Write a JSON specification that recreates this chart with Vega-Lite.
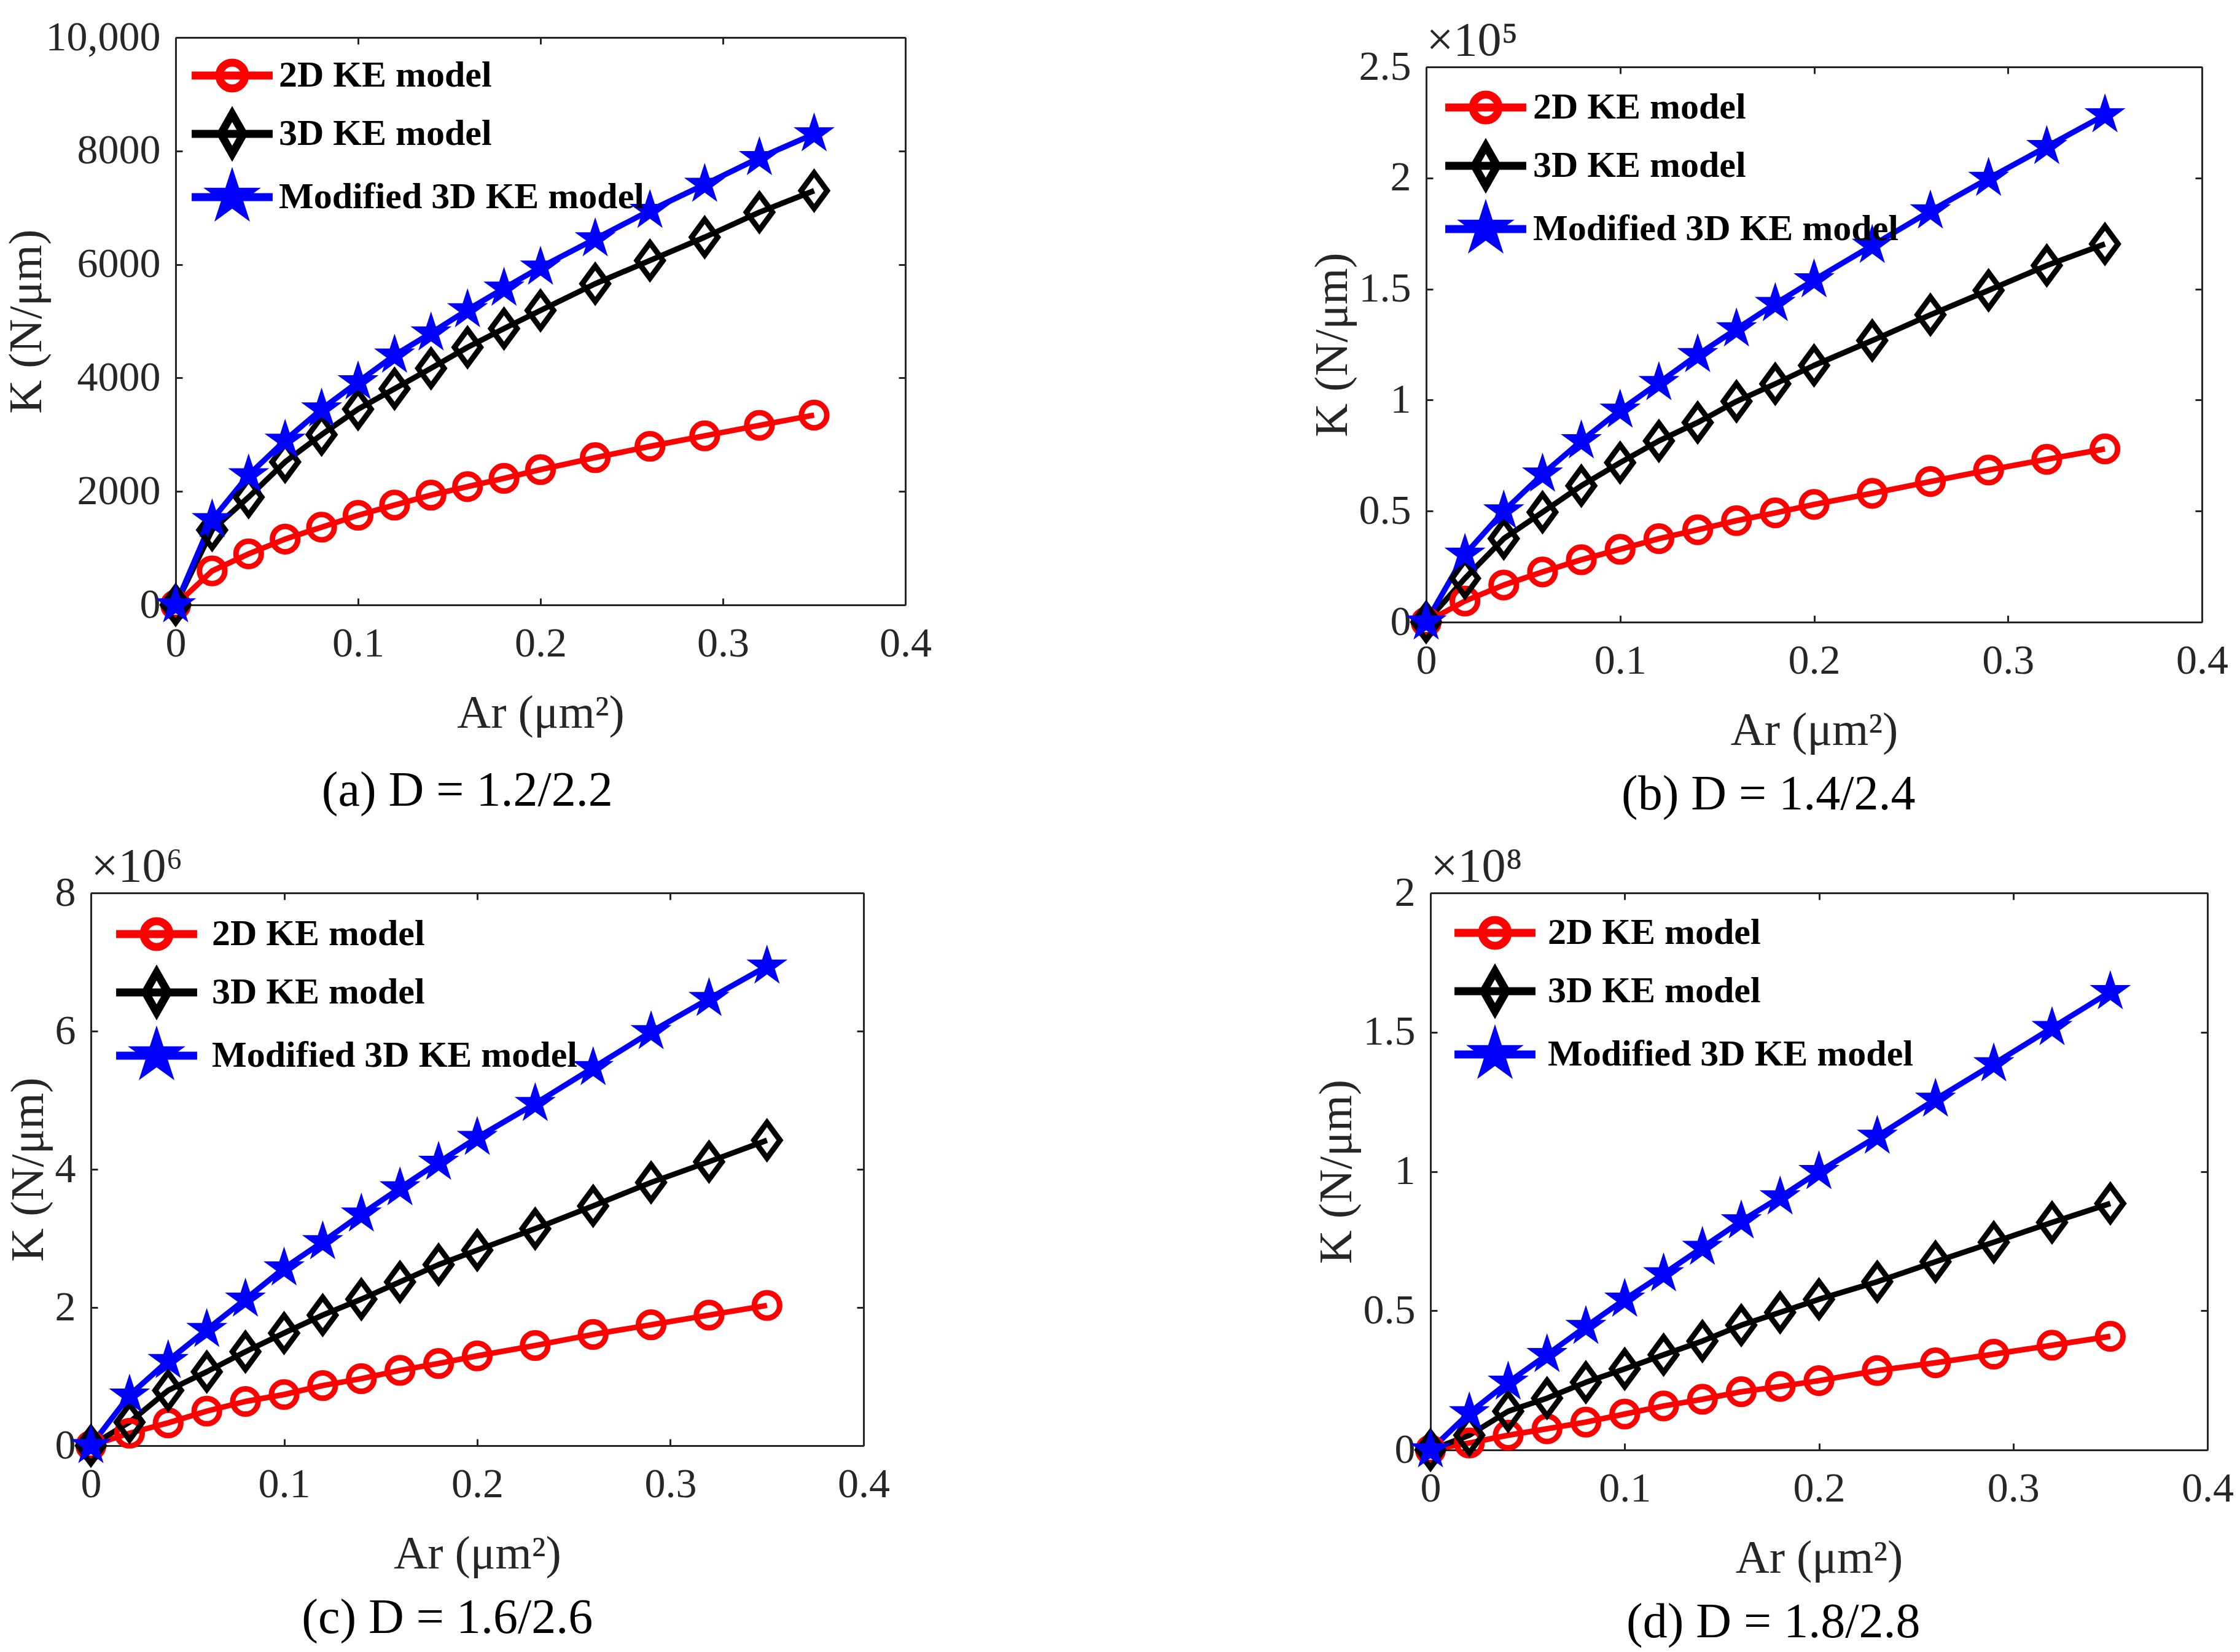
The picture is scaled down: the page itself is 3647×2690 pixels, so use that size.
{
  "$schema": "https://vega.github.io/schema/vega-lite/v6.json",
  "padding": {"left": 0, "top": 0, "right": 5, "bottom": 5},
  "datasets": {
    "kdata": [
      {"p":"a","s":"2D KE model","ar":0,"k":0},{"p":"a","s":"2D KE model","ar":0.02,"k":600},{"p":"a","s":"2D KE model","ar":0.04,"k":900},{"p":"a","s":"2D KE model","ar":0.06,"k":1160},
      {"p":"a","s":"2D KE model","ar":0.08,"k":1370},{"p":"a","s":"2D KE model","ar":0.1,"k":1580},{"p":"a","s":"2D KE model","ar":0.12,"k":1760},{"p":"a","s":"2D KE model","ar":0.14,"k":1935},
      {"p":"a","s":"2D KE model","ar":0.16,"k":2085},{"p":"a","s":"2D KE model","ar":0.18,"k":2230},{"p":"a","s":"2D KE model","ar":0.2,"k":2385},{"p":"a","s":"2D KE model","ar":0.23,"k":2595},
      {"p":"a","s":"2D KE model","ar":0.26,"k":2795},{"p":"a","s":"2D KE model","ar":0.29,"k":2980},{"p":"a","s":"2D KE model","ar":0.32,"k":3165},{"p":"a","s":"2D KE model","ar":0.35,"k":3345},
      {"p":"a","s":"3D KE model","ar":0,"k":0},{"p":"a","s":"3D KE model","ar":0.02,"k":1320},{"p":"a","s":"3D KE model","ar":0.04,"k":1900},{"p":"a","s":"3D KE model","ar":0.06,"k":2520},
      {"p":"a","s":"3D KE model","ar":0.08,"k":3000},{"p":"a","s":"3D KE model","ar":0.1,"k":3450},{"p":"a","s":"3D KE model","ar":0.12,"k":3810},{"p":"a","s":"3D KE model","ar":0.14,"k":4170},
      {"p":"a","s":"3D KE model","ar":0.16,"k":4540},{"p":"a","s":"3D KE model","ar":0.18,"k":4870},{"p":"a","s":"3D KE model","ar":0.2,"k":5190},{"p":"a","s":"3D KE model","ar":0.23,"k":5660},
      {"p":"a","s":"3D KE model","ar":0.26,"k":6070},{"p":"a","s":"3D KE model","ar":0.29,"k":6480},{"p":"a","s":"3D KE model","ar":0.32,"k":6920},{"p":"a","s":"3D KE model","ar":0.35,"k":7300},
      {"p":"a","s":"Modified 3D KE model","ar":0,"k":0},{"p":"a","s":"Modified 3D KE model","ar":0.02,"k":1500},{"p":"a","s":"Modified 3D KE model","ar":0.04,"k":2290},{"p":"a","s":"Modified 3D KE model","ar":0.06,"k":2900},
      {"p":"a","s":"Modified 3D KE model","ar":0.08,"k":3450},{"p":"a","s":"Modified 3D KE model","ar":0.1,"k":3930},{"p":"a","s":"Modified 3D KE model","ar":0.12,"k":4400},{"p":"a","s":"Modified 3D KE model","ar":0.14,"k":4790},
      {"p":"a","s":"Modified 3D KE model","ar":0.16,"k":5200},{"p":"a","s":"Modified 3D KE model","ar":0.18,"k":5580},{"p":"a","s":"Modified 3D KE model","ar":0.2,"k":5950},{"p":"a","s":"Modified 3D KE model","ar":0.23,"k":6450},
      {"p":"a","s":"Modified 3D KE model","ar":0.26,"k":6950},{"p":"a","s":"Modified 3D KE model","ar":0.29,"k":7410},{"p":"a","s":"Modified 3D KE model","ar":0.32,"k":7880},{"p":"a","s":"Modified 3D KE model","ar":0.35,"k":8300},

      {"p":"b","s":"2D KE model","ar":0,"k":0},{"p":"b","s":"2D KE model","ar":0.02,"k":0.095},{"p":"b","s":"2D KE model","ar":0.04,"k":0.167},{"p":"b","s":"2D KE model","ar":0.06,"k":0.226},
      {"p":"b","s":"2D KE model","ar":0.08,"k":0.281},{"p":"b","s":"2D KE model","ar":0.1,"k":0.328},{"p":"b","s":"2D KE model","ar":0.12,"k":0.376},{"p":"b","s":"2D KE model","ar":0.14,"k":0.416},
      {"p":"b","s":"2D KE model","ar":0.16,"k":0.457},{"p":"b","s":"2D KE model","ar":0.18,"k":0.492},{"p":"b","s":"2D KE model","ar":0.2,"k":0.53},{"p":"b","s":"2D KE model","ar":0.23,"k":0.58},
      {"p":"b","s":"2D KE model","ar":0.26,"k":0.633},{"p":"b","s":"2D KE model","ar":0.29,"k":0.685},{"p":"b","s":"2D KE model","ar":0.32,"k":0.733},{"p":"b","s":"2D KE model","ar":0.35,"k":0.78},
      {"p":"b","s":"3D KE model","ar":0,"k":0},{"p":"b","s":"3D KE model","ar":0.02,"k":0.197},{"p":"b","s":"3D KE model","ar":0.04,"k":0.376},{"p":"b","s":"3D KE model","ar":0.06,"k":0.495},
      {"p":"b","s":"3D KE model","ar":0.08,"k":0.614},{"p":"b","s":"3D KE model","ar":0.1,"k":0.718},{"p":"b","s":"3D KE model","ar":0.12,"k":0.816},{"p":"b","s":"3D KE model","ar":0.14,"k":0.899},
      {"p":"b","s":"3D KE model","ar":0.16,"k":0.994},{"p":"b","s":"3D KE model","ar":0.18,"k":1.073},{"p":"b","s":"3D KE model","ar":0.2,"k":1.156},{"p":"b","s":"3D KE model","ar":0.23,"k":1.268},
      {"p":"b","s":"3D KE model","ar":0.26,"k":1.384},{"p":"b","s":"3D KE model","ar":0.29,"k":1.494},{"p":"b","s":"3D KE model","ar":0.32,"k":1.606},{"p":"b","s":"3D KE model","ar":0.35,"k":1.703},
      {"p":"b","s":"Modified 3D KE model","ar":0,"k":0},{"p":"b","s":"Modified 3D KE model","ar":0.02,"k":0.305},{"p":"b","s":"Modified 3D KE model","ar":0.04,"k":0.5},{"p":"b","s":"Modified 3D KE model","ar":0.06,"k":0.666},
      {"p":"b","s":"Modified 3D KE model","ar":0.08,"k":0.816},{"p":"b","s":"Modified 3D KE model","ar":0.1,"k":0.954},{"p":"b","s":"Modified 3D KE model","ar":0.12,"k":1.078},{"p":"b","s":"Modified 3D KE model","ar":0.14,"k":1.204},
      {"p":"b","s":"Modified 3D KE model","ar":0.16,"k":1.32},{"p":"b","s":"Modified 3D KE model","ar":0.18,"k":1.434},{"p":"b","s":"Modified 3D KE model","ar":0.2,"k":1.541},{"p":"b","s":"Modified 3D KE model","ar":0.23,"k":1.696},
      {"p":"b","s":"Modified 3D KE model","ar":0.26,"k":1.851},{"p":"b","s":"Modified 3D KE model","ar":0.29,"k":1.998},{"p":"b","s":"Modified 3D KE model","ar":0.32,"k":2.141},{"p":"b","s":"Modified 3D KE model","ar":0.35,"k":2.284},

      {"p":"c","s":"2D KE model","ar":0,"k":0},{"p":"c","s":"2D KE model","ar":0.02,"k":0.18},{"p":"c","s":"2D KE model","ar":0.04,"k":0.33},{"p":"c","s":"2D KE model","ar":0.06,"k":0.5},
      {"p":"c","s":"2D KE model","ar":0.08,"k":0.64},{"p":"c","s":"2D KE model","ar":0.1,"k":0.74},{"p":"c","s":"2D KE model","ar":0.12,"k":0.87},{"p":"c","s":"2D KE model","ar":0.14,"k":0.97},
      {"p":"c","s":"2D KE model","ar":0.16,"k":1.09},{"p":"c","s":"2D KE model","ar":0.18,"k":1.19},{"p":"c","s":"2D KE model","ar":0.2,"k":1.3},{"p":"c","s":"2D KE model","ar":0.23,"k":1.45},
      {"p":"c","s":"2D KE model","ar":0.26,"k":1.61},{"p":"c","s":"2D KE model","ar":0.29,"k":1.75},{"p":"c","s":"2D KE model","ar":0.32,"k":1.89},{"p":"c","s":"2D KE model","ar":0.35,"k":2.03},
      {"p":"c","s":"3D KE model","ar":0,"k":0},{"p":"c","s":"3D KE model","ar":0.02,"k":0.34},{"p":"c","s":"3D KE model","ar":0.04,"k":0.8},{"p":"c","s":"3D KE model","ar":0.06,"k":1.07},
      {"p":"c","s":"3D KE model","ar":0.08,"k":1.36},{"p":"c","s":"3D KE model","ar":0.1,"k":1.63},{"p":"c","s":"3D KE model","ar":0.12,"k":1.89},{"p":"c","s":"3D KE model","ar":0.14,"k":2.12},
      {"p":"c","s":"3D KE model","ar":0.16,"k":2.37},{"p":"c","s":"3D KE model","ar":0.18,"k":2.62},{"p":"c","s":"3D KE model","ar":0.2,"k":2.83},{"p":"c","s":"3D KE model","ar":0.23,"k":3.14},
      {"p":"c","s":"3D KE model","ar":0.26,"k":3.47},{"p":"c","s":"3D KE model","ar":0.29,"k":3.81},{"p":"c","s":"3D KE model","ar":0.32,"k":4.11},{"p":"c","s":"3D KE model","ar":0.35,"k":4.42},
      {"p":"c","s":"Modified 3D KE model","ar":0,"k":0},{"p":"c","s":"Modified 3D KE model","ar":0.02,"k":0.73},{"p":"c","s":"Modified 3D KE model","ar":0.04,"k":1.23},{"p":"c","s":"Modified 3D KE model","ar":0.06,"k":1.68},
      {"p":"c","s":"Modified 3D KE model","ar":0.08,"k":2.12},{"p":"c","s":"Modified 3D KE model","ar":0.1,"k":2.57},{"p":"c","s":"Modified 3D KE model","ar":0.12,"k":2.95},{"p":"c","s":"Modified 3D KE model","ar":0.14,"k":3.35},
      {"p":"c","s":"Modified 3D KE model","ar":0.16,"k":3.73},{"p":"c","s":"Modified 3D KE model","ar":0.18,"k":4.1},{"p":"c","s":"Modified 3D KE model","ar":0.2,"k":4.46},{"p":"c","s":"Modified 3D KE model","ar":0.23,"k":4.95},
      {"p":"c","s":"Modified 3D KE model","ar":0.26,"k":5.47},{"p":"c","s":"Modified 3D KE model","ar":0.29,"k":5.99},{"p":"c","s":"Modified 3D KE model","ar":0.32,"k":6.47},{"p":"c","s":"Modified 3D KE model","ar":0.35,"k":6.94},

      {"p":"d","s":"2D KE model","ar":0,"k":0},{"p":"d","s":"2D KE model","ar":0.02,"k":0.025},{"p":"d","s":"2D KE model","ar":0.04,"k":0.053},{"p":"d","s":"2D KE model","ar":0.06,"k":0.076},
      {"p":"d","s":"2D KE model","ar":0.08,"k":0.1},{"p":"d","s":"2D KE model","ar":0.1,"k":0.129},{"p":"d","s":"2D KE model","ar":0.12,"k":0.158},{"p":"d","s":"2D KE model","ar":0.14,"k":0.182},
      {"p":"d","s":"2D KE model","ar":0.16,"k":0.209},{"p":"d","s":"2D KE model","ar":0.18,"k":0.228},{"p":"d","s":"2D KE model","ar":0.2,"k":0.249},{"p":"d","s":"2D KE model","ar":0.23,"k":0.285},
      {"p":"d","s":"2D KE model","ar":0.26,"k":0.313},{"p":"d","s":"2D KE model","ar":0.29,"k":0.344},{"p":"d","s":"2D KE model","ar":0.32,"k":0.376},{"p":"d","s":"2D KE model","ar":0.35,"k":0.408},
      {"p":"d","s":"3D KE model","ar":0,"k":0},{"p":"d","s":"3D KE model","ar":0.02,"k":0.053},{"p":"d","s":"3D KE model","ar":0.04,"k":0.139},{"p":"d","s":"3D KE model","ar":0.06,"k":0.186},
      {"p":"d","s":"3D KE model","ar":0.08,"k":0.243},{"p":"d","s":"3D KE model","ar":0.1,"k":0.291},{"p":"d","s":"3D KE model","ar":0.12,"k":0.342},{"p":"d","s":"3D KE model","ar":0.14,"k":0.391},
      {"p":"d","s":"3D KE model","ar":0.16,"k":0.448},{"p":"d","s":"3D KE model","ar":0.18,"k":0.494},{"p":"d","s":"3D KE model","ar":0.2,"k":0.541},{"p":"d","s":"3D KE model","ar":0.23,"k":0.604},
      {"p":"d","s":"3D KE model","ar":0.26,"k":0.676},{"p":"d","s":"3D KE model","ar":0.29,"k":0.746},{"p":"d","s":"3D KE model","ar":0.32,"k":0.817},{"p":"d","s":"3D KE model","ar":0.35,"k":0.885},
      {"p":"d","s":"Modified 3D KE model","ar":0,"k":0},{"p":"d","s":"Modified 3D KE model","ar":0.02,"k":0.133},{"p":"d","s":"Modified 3D KE model","ar":0.04,"k":0.243},{"p":"d","s":"Modified 3D KE model","ar":0.06,"k":0.342},
      {"p":"d","s":"Modified 3D KE model","ar":0.08,"k":0.443},{"p":"d","s":"Modified 3D KE model","ar":0.1,"k":0.541},{"p":"d","s":"Modified 3D KE model","ar":0.12,"k":0.632},{"p":"d","s":"Modified 3D KE model","ar":0.14,"k":0.727},
      {"p":"d","s":"Modified 3D KE model","ar":0.16,"k":0.822},{"p":"d","s":"Modified 3D KE model","ar":0.18,"k":0.908},{"p":"d","s":"Modified 3D KE model","ar":0.2,"k":0.999},{"p":"d","s":"Modified 3D KE model","ar":0.23,"k":1.126},
      {"p":"d","s":"Modified 3D KE model","ar":0.26,"k":1.259},{"p":"d","s":"Modified 3D KE model","ar":0.29,"k":1.386},{"p":"d","s":"Modified 3D KE model","ar":0.32,"k":1.516},{"p":"d","s":"Modified 3D KE model","ar":0.35,"k":1.645}
    ]
  },
  "columns": 1,
  "align": "none",
  "spacing": 11,
  "resolve": {"legend": {"color": "independent"}},
  "concat": [
    {
      "columns": 4,
      "align": "none",
      "spacing": {"row": 26, "column": 0},
      "resolve": {"legend": {"color": "independent"}},
      "concat": [
        {"width": 1, "height": 1, "data": {"values": []}, "mark": "point"},
        {"width": 1, "height": 1, "data": {"values": []}, "mark": "point"},
        {"width": 1, "height": 1, "data": {"values": []}, "mark": "point"},
        {"width": 1, "height": 1, "data": {"values": []}, "mark": "point"},
        {"width": 5, "height": 1, "data": {"values": []}, "mark": "point"},
        {
          "width": 1188, "height": 924,
          "data": {"name": "kdata"},
          "transform": [{"filter": "datum.p === 'a'"}],
          "title": {"text": "(a) D = 1.2/2.2", "offset": 50},
          "layer": [
            {
              "mark": {"type": "line", "strokeWidth": 9, "strokeJoin": "round"},
              "encoding": {
                "x": {"field": "ar", "type": "quantitative", "scale": {"domain": [0, 0.4], "nice": false}, "axis": {"orient": "bottom", "title": "Ar (μm²)", "values": [0, 0.1, 0.2, 0.3, 0.4], "format": "~g"}},
                "y": {"field": "k", "type": "quantitative", "scale": {"domain": [0, 10000], "nice": false}, "axis": {"orient": "left", "title": "K (N/μm)", "values": [0, 2000, 4000, 6000, 8000, 10000], "labelExpr": "datum.value === 10000 ? '10,000' : format(datum.value, 'd')"}},
                "color": {
                  "field": "s", "type": "nominal",
                  "scale": {"domain": ["2D KE model", "3D KE model", "Modified 3D KE model"], "range": ["#ff0000", "#000000", "#0000ff"]},
                  "legend": {
                    "title": null, "orient": "none", "legendX": 62, "legendY": 32, "labelOffset": 46,
                    "encode": {"symbols": {"update": {
                      "shape": {"signal": "datum.value === '2D KE model' ? 'M-2.93,0L2.93,0M0.93,0A0.93,0.93 0 1,1 -0.93,0A0.93,0.93 0 1,1 0.93,0' : datum.value === '3D KE model' ? 'M-2.93,0L2.93,0M0,-1.44L0.82,0L0,1.44L-0.82,0Z' : 'M-2.93,0L2.93,0M0,-1.26L0.283,-0.39L1.198,-0.389L0.458,0.149L0.741,1.019L0,0.482L-0.741,1.019L-0.458,0.149L-1.198,-0.389L-0.283,-0.39Z'"},
                      "fill": {"signal": "datum.value === 'Modified 3D KE model' ? '#0000ff' : 'transparent'"},
                      "strokeWidth": {"value": 13},
                      "opacity": {"value": 1}
                    }}}
                  }
                }
              }
            },
            {
              "transform": [{"filter": "datum.s === '2D KE model'"}],
              "mark": {"type": "point", "shape": "circle", "size": 1700, "filled": false, "stroke": "#ff0000", "strokeWidth": 9, "opacity": 1},
              "encoding": {
                "x": {"field": "ar", "type": "quantitative", "axis": {"orient": "top", "title": null, "values": [0, 0.1, 0.2, 0.3, 0.4]}},
                "y": {"field": "k", "type": "quantitative", "axis": {"orient": "right", "title": null, "values": [0, 2000, 4000, 6000, 8000, 10000]}}
              }
            },
            {
              "transform": [{"filter": "datum.s === '3D KE model'"}],
              "mark": {"type": "point", "shape": "M0,-1.4L1.03,0L0,1.4L-1.03,0Z", "size": 1700, "filled": false, "stroke": "#000000", "strokeWidth": 9, "opacity": 1},
              "encoding": {
                "x": {"field": "ar", "type": "quantitative", "axis": null},
                "y": {"field": "k", "type": "quantitative", "axis": null}
              }
            },
            {
              "transform": [{"filter": "datum.s === 'Modified 3D KE model'"}],
              "mark": {"type": "point", "shape": "M0,-1.55L0.348,-0.479L1.474,-0.479L0.563,0.183L0.911,1.254L0,0.592L-0.911,1.254L-0.563,0.183L-1.474,-0.479L-0.348,-0.479Z", "size": 1700, "filled": true, "fill": "#0000ff", "stroke": "#0000ff", "strokeWidth": 2, "opacity": 1},
              "encoding": {
                "x": {"field": "ar", "type": "quantitative", "axis": null},
                "y": {"field": "k", "type": "quantitative", "axis": null}
              }
            }
          ],
          "resolve": {"axis": {"x": "independent", "y": "independent"}}
        },
        {"width": 614, "height": 1, "data": {"values": []}, "mark": "point"},
        {
          "width": 1263, "height": 904,
          "data": {"name": "kdata"},
          "transform": [{"filter": "datum.p === 'b'"}],
          "title": {"text": "(b) D = 1.4/2.4", "offset": 28},
          "layer": [
            {
              "mark": {"type": "line", "strokeWidth": 9, "strokeJoin": "round"},
              "encoding": {
                "x": {"field": "ar", "type": "quantitative", "scale": {"domain": [0, 0.4], "nice": false}, "axis": {"orient": "bottom", "title": "Ar (μm²)", "values": [0, 0.1, 0.2, 0.3, 0.4], "format": "~g"}},
                "y": {"field": "k", "type": "quantitative", "scale": {"domain": [0, 2.5], "nice": false}, "axis": {"orient": "left", "title": "K (N/μm)", "values": [0, 0.5, 1, 1.5, 2, 2.5], "format": "~g"}},
                "color": {
                  "field": "s", "type": "nominal",
                  "scale": {"domain": ["2D KE model", "3D KE model", "Modified 3D KE model"], "range": ["#ff0000", "#000000", "#0000ff"]},
                  "legend": {
                    "title": null, "orient": "none", "legendX": 67, "legendY": 36, "labelOffset": 47,
                    "encode": {"symbols": {"update": {
                      "shape": {"signal": "datum.value === '2D KE model' ? 'M-2.93,0L2.93,0M0.93,0A0.93,0.93 0 1,1 -0.93,0A0.93,0.93 0 1,1 0.93,0' : datum.value === '3D KE model' ? 'M-2.93,0L2.93,0M0,-1.44L0.82,0L0,1.44L-0.82,0Z' : 'M-2.93,0L2.93,0M0,-1.26L0.283,-0.39L1.198,-0.389L0.458,0.149L0.741,1.019L0,0.482L-0.741,1.019L-0.458,0.149L-1.198,-0.389L-0.283,-0.39Z'"},
                      "fill": {"signal": "datum.value === 'Modified 3D KE model' ? '#0000ff' : 'transparent'"},
                      "strokeWidth": {"value": 13},
                      "opacity": {"value": 1}
                    }}}
                  }
                }
              }
            },
            {
              "transform": [{"filter": "datum.s === '2D KE model'"}],
              "mark": {"type": "point", "shape": "circle", "size": 1700, "filled": false, "stroke": "#ff0000", "strokeWidth": 9, "opacity": 1},
              "encoding": {
                "x": {"field": "ar", "type": "quantitative", "axis": {"orient": "top", "title": "×10⁵", "values": [0, 0.1, 0.2, 0.3, 0.4]}},
                "y": {"field": "k", "type": "quantitative", "axis": {"orient": "right", "title": null, "values": [0, 0.5, 1, 1.5, 2, 2.5]}}
              }
            },
            {
              "transform": [{"filter": "datum.s === '3D KE model'"}],
              "mark": {"type": "point", "shape": "M0,-1.4L1.03,0L0,1.4L-1.03,0Z", "size": 1700, "filled": false, "stroke": "#000000", "strokeWidth": 9, "opacity": 1},
              "encoding": {
                "x": {"field": "ar", "type": "quantitative", "axis": null},
                "y": {"field": "k", "type": "quantitative", "axis": null}
              }
            },
            {
              "transform": [{"filter": "datum.s === 'Modified 3D KE model'"}],
              "mark": {"type": "point", "shape": "M0,-1.55L0.348,-0.479L1.474,-0.479L0.563,0.183L0.911,1.254L0,0.592L-0.911,1.254L-0.563,0.183L-1.474,-0.479L-0.348,-0.479Z", "size": 1700, "filled": true, "fill": "#0000ff", "stroke": "#0000ff", "strokeWidth": 2, "opacity": 1},
              "encoding": {
                "x": {"field": "ar", "type": "quantitative", "axis": null},
                "y": {"field": "k", "type": "quantitative", "axis": null}
              }
            }
          ],
          "resolve": {"axis": {"x": "independent", "y": "independent"}}
        }
      ]
    },
    {
      "columns": 4,
      "align": "none",
      "spacing": {"row": 26, "column": 0},
      "resolve": {"legend": {"color": "independent"}},
      "concat": [
        {"width": 1, "height": 1, "data": {"values": []}, "mark": "point"},
        {"width": 1, "height": 1, "data": {"values": []}, "mark": "point"},
        {"width": 1, "height": 1, "data": {"values": []}, "mark": "point"},
        {"width": 1, "height": 1, "data": {"values": []}, "mark": "point"},
        {"width": 8, "height": 1, "data": {"values": []}, "mark": "point"},
        {
          "width": 1258, "height": 900,
          "data": {"name": "kdata"},
          "transform": [{"filter": "datum.p === 'c'"}],
          "title": {"text": "(c) D = 1.6/2.6", "offset": 28},
          "layer": [
            {
              "mark": {"type": "line", "strokeWidth": 9, "strokeJoin": "round"},
              "encoding": {
                "x": {"field": "ar", "type": "quantitative", "scale": {"domain": [0, 0.4], "nice": false}, "axis": {"orient": "bottom", "title": "Ar (μm²)", "values": [0, 0.1, 0.2, 0.3, 0.4], "format": "~g"}},
                "y": {"field": "k", "type": "quantitative", "scale": {"domain": [0, 8], "nice": false}, "axis": {"orient": "left", "title": "K (N/μm)", "values": [0, 2, 4, 6, 8], "format": "~g"}},
                "color": {
                  "field": "s", "type": "nominal",
                  "scale": {"domain": ["2D KE model", "3D KE model", "Modified 3D KE model"], "range": ["#ff0000", "#000000", "#0000ff"]},
                  "legend": {
                    "title": null, "orient": "none", "legendX": 77, "legendY": 37, "labelOffset": 60,
                    "encode": {"symbols": {"update": {
                      "shape": {"signal": "datum.value === '2D KE model' ? 'M-2.93,0L2.93,0M0.93,0A0.93,0.93 0 1,1 -0.93,0A0.93,0.93 0 1,1 0.93,0' : datum.value === '3D KE model' ? 'M-2.93,0L2.93,0M0,-1.44L0.82,0L0,1.44L-0.82,0Z' : 'M-2.93,0L2.93,0M0,-1.26L0.283,-0.39L1.198,-0.389L0.458,0.149L0.741,1.019L0,0.482L-0.741,1.019L-0.458,0.149L-1.198,-0.389L-0.283,-0.39Z'"},
                      "fill": {"signal": "datum.value === 'Modified 3D KE model' ? '#0000ff' : 'transparent'"},
                      "strokeWidth": {"value": 13},
                      "opacity": {"value": 1}
                    }}}
                  }
                }
              }
            },
            {
              "transform": [{"filter": "datum.s === '2D KE model'"}],
              "mark": {"type": "point", "shape": "circle", "size": 1700, "filled": false, "stroke": "#ff0000", "strokeWidth": 9, "opacity": 1},
              "encoding": {
                "x": {"field": "ar", "type": "quantitative", "axis": {"orient": "top", "title": "×10⁶", "values": [0, 0.1, 0.2, 0.3, 0.4]}},
                "y": {"field": "k", "type": "quantitative", "axis": {"orient": "right", "title": null, "values": [0, 2, 4, 6, 8]}}
              }
            },
            {
              "transform": [{"filter": "datum.s === '3D KE model'"}],
              "mark": {"type": "point", "shape": "M0,-1.4L1.03,0L0,1.4L-1.03,0Z", "size": 1700, "filled": false, "stroke": "#000000", "strokeWidth": 9, "opacity": 1},
              "encoding": {
                "x": {"field": "ar", "type": "quantitative", "axis": null},
                "y": {"field": "k", "type": "quantitative", "axis": null}
              }
            },
            {
              "transform": [{"filter": "datum.s === 'Modified 3D KE model'"}],
              "mark": {"type": "point", "shape": "M0,-1.55L0.348,-0.479L1.474,-0.479L0.563,0.183L0.911,1.254L0,0.592L-0.911,1.254L-0.563,0.183L-1.474,-0.479L-0.348,-0.479Z", "size": 1700, "filled": true, "fill": "#0000ff", "stroke": "#0000ff", "strokeWidth": 2, "opacity": 1},
              "encoding": {
                "x": {"field": "ar", "type": "quantitative", "axis": null},
                "y": {"field": "k", "type": "quantitative", "axis": null}
              }
            }
          ],
          "resolve": {"axis": {"x": "independent", "y": "independent"}}
        },
        {"width": 689, "height": 1, "data": {"values": []}, "mark": "point"},
        {
          "width": 1265, "height": 907,
          "data": {"name": "kdata"},
          "transform": [{"filter": "datum.p === 'd'"}],
          "title": {"text": "(d) D = 1.8/2.8", "offset": 28},
          "layer": [
            {
              "mark": {"type": "line", "strokeWidth": 9, "strokeJoin": "round"},
              "encoding": {
                "x": {"field": "ar", "type": "quantitative", "scale": {"domain": [0, 0.4], "nice": false}, "axis": {"orient": "bottom", "title": "Ar (μm²)", "values": [0, 0.1, 0.2, 0.3, 0.4], "format": "~g"}},
                "y": {"field": "k", "type": "quantitative", "scale": {"domain": [0, 2], "nice": false}, "axis": {"orient": "left", "title": "K (N/μm)", "values": [0, 0.5, 1, 1.5, 2], "format": "~g"}},
                "color": {
                  "field": "s", "type": "nominal",
                  "scale": {"domain": ["2D KE model", "3D KE model", "Modified 3D KE model"], "range": ["#ff0000", "#000000", "#0000ff"]},
                  "legend": {
                    "title": null, "orient": "none", "legendX": 75, "legendY": 35, "labelOffset": 56,
                    "encode": {"symbols": {"update": {
                      "shape": {"signal": "datum.value === '2D KE model' ? 'M-2.93,0L2.93,0M0.93,0A0.93,0.93 0 1,1 -0.93,0A0.93,0.93 0 1,1 0.93,0' : datum.value === '3D KE model' ? 'M-2.93,0L2.93,0M0,-1.44L0.82,0L0,1.44L-0.82,0Z' : 'M-2.93,0L2.93,0M0,-1.26L0.283,-0.39L1.198,-0.389L0.458,0.149L0.741,1.019L0,0.482L-0.741,1.019L-0.458,0.149L-1.198,-0.389L-0.283,-0.39Z'"},
                      "fill": {"signal": "datum.value === 'Modified 3D KE model' ? '#0000ff' : 'transparent'"},
                      "strokeWidth": {"value": 13},
                      "opacity": {"value": 1}
                    }}}
                  }
                }
              }
            },
            {
              "transform": [{"filter": "datum.s === '2D KE model'"}],
              "mark": {"type": "point", "shape": "circle", "size": 1700, "filled": false, "stroke": "#ff0000", "strokeWidth": 9, "opacity": 1},
              "encoding": {
                "x": {"field": "ar", "type": "quantitative", "axis": {"orient": "top", "title": "×10⁸", "values": [0, 0.1, 0.2, 0.3, 0.4]}},
                "y": {"field": "k", "type": "quantitative", "axis": {"orient": "right", "title": null, "values": [0, 0.5, 1, 1.5, 2]}}
              }
            },
            {
              "transform": [{"filter": "datum.s === '3D KE model'"}],
              "mark": {"type": "point", "shape": "M0,-1.4L1.03,0L0,1.4L-1.03,0Z", "size": 1700, "filled": false, "stroke": "#000000", "strokeWidth": 9, "opacity": 1},
              "encoding": {
                "x": {"field": "ar", "type": "quantitative", "axis": null},
                "y": {"field": "k", "type": "quantitative", "axis": null}
              }
            },
            {
              "transform": [{"filter": "datum.s === 'Modified 3D KE model'"}],
              "mark": {"type": "point", "shape": "M0,-1.55L0.348,-0.479L1.474,-0.479L0.563,0.183L0.911,1.254L0,0.592L-0.911,1.254L-0.563,0.183L-1.474,-0.479L-0.348,-0.479Z", "size": 1700, "filled": true, "fill": "#0000ff", "stroke": "#0000ff", "strokeWidth": 2, "opacity": 1},
              "encoding": {
                "x": {"field": "ar", "type": "quantitative", "axis": null},
                "y": {"field": "k", "type": "quantitative", "axis": null}
              }
            }
          ],
          "resolve": {"axis": {"x": "independent", "y": "independent"}}
        }
      ]
    }
  ],
  "config": {
    "font": "Liberation Serif",
    "background": "#ffffff",
    "view": {"stroke": null},
    "axis": {
      "domain": true, "domainColor": "#262626", "domainWidth": 3, "grid": false,
      "tickSize": -11, "tickWidth": 3, "tickColor": "#262626",
      "labelFont": "Liberation Serif", "labelFontSize": 68, "labelColor": "#262626", "labelFlush": false, "labelOverlap": false, "labelLimit": 0,
      "titleFont": "Liberation Serif", "titleFontSize": 76, "titleFontWeight": "normal", "titleColor": "#262626"
    },
    "axisBottom": {"labelPadding": 40, "titlePadding": 42},
    "axisLeft": {"labelPadding": 36, "titlePadding": 4},
    "axisTop": {"labels": false, "titlePadding": 18, "titleAnchor": "start", "titleAlign": "left", "titleBaseline": "alphabetic", "titleFontSize": 78},
    "axisRight": {"labels": false},
    "title": {"font": "Liberation Serif", "fontSize": 80, "fontWeight": "normal", "color": "#000000", "orient": "bottom", "frame": "bounds", "anchor": "middle"},
    "legend": {
      "labelFont": "Liberation Serif", "labelFontSize": 60, "labelFontWeight": "bold", "labelColor": "#000000", "labelLimit": 0,
      "symbolSize": 2025, "rowPadding": -11, "padding": 0
    }
  }
}
